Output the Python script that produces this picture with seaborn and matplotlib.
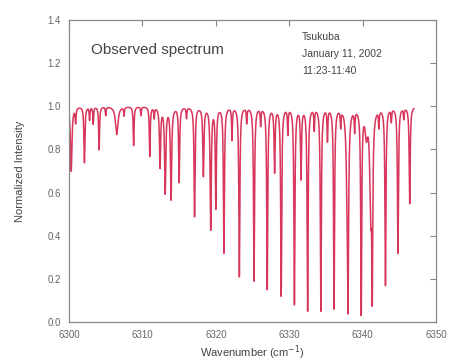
import numpy as np
import pandas as pd
import matplotlib
matplotlib.use("Agg")
import matplotlib.pyplot as plt
import seaborn as sns

# Absorption line list: centre (cm-1), transmission at line centre, half width (cm-1)
line_centers = [6300.3, 6300.9, 6302.1, 6302.8, 6303.3, 6304.1, 6305.0, 6306.5,
                6307.5, 6308.8, 6309.8, 6311.0, 6311.6, 6312.4, 6313.1, 6313.9,
                6315.0, 6316.0, 6317.1, 6318.3, 6319.3, 6320.0, 6321.1, 6322.2,
                6323.2, 6324.2, 6325.2, 6326.1, 6327.0, 6328.0, 6328.9, 6329.8,
                6330.7, 6331.6, 6332.5, 6333.4, 6334.3, 6335.2, 6336.1, 6337.0,
                6337.9, 6338.0, 6338.9, 6339.8, 6340.5, 6341.1, 6341.3, 6342.2,
                6343.1, 6343.9, 6344.8, 6345.6, 6346.4]
line_minima = [0.70, 0.93, 0.74, 0.94, 0.92, 0.80, 0.96, 0.87,
               0.96, 0.82, 0.96, 0.77, 0.95, 0.72, 0.60, 0.57,
               0.65, 0.95, 0.49, 0.68, 0.43, 0.53, 0.32, 0.85,
               0.21, 0.93, 0.19, 0.92, 0.15, 0.70, 0.12, 0.88,
               0.08, 0.67, 0.05, 0.90, 0.05, 0.85, 0.06, 0.92,
               0.63, 0.05, 0.90, 0.03, 0.88, 0.50, 0.09, 0.92,
               0.17, 0.94, 0.32, 0.95, 0.55]
line_hwhm = [0.12, 0.07, 0.08, 0.06, 0.06, 0.07, 0.06, 0.20,
             0.06, 0.07, 0.06, 0.07, 0.06, 0.09, 0.10, 0.10,
             0.08, 0.06, 0.08, 0.09, 0.09, 0.08, 0.08, 0.06,
             0.08, 0.06, 0.08, 0.06, 0.08, 0.08, 0.08, 0.06,
             0.08, 0.08, 0.08, 0.06, 0.08, 0.06, 0.08, 0.06,
             0.15, 0.08, 0.06, 0.08, 0.20, 0.15, 0.08, 0.06,
             0.08, 0.06, 0.08, 0.06, 0.08]
continuum = 1.0
wn_start, wn_end = 6300.0, 6347.0

x_ticks = [6300, 6310, 6320, 6330, 6340, 6350]
y_ticks = [0.0, 0.2, 0.4, 0.6, 0.8, 1.0, 1.2, 1.4]

# Spectrum: continuum times Lorentzian absorption of each line
wn = np.sort(np.concatenate([np.arange(wn_start, wn_end + 1e-9, 0.005),
                             np.array(line_centers)]))
trans = np.full_like(wn, continuum)
for c, m, g in zip(line_centers, line_minima, line_hwhm):
    depth = 1.0 - m / continuum
    trans *= 1.0 - depth * g**2 / ((wn - c) ** 2 + g**2)
df = pd.DataFrame({"Wavenumber": wn, "Intensity": trans})

sns.set_theme(style="white")
plt.rcParams["font.family"] = ["Liberation Sans", "DejaVu Sans"]

fig = plt.figure(figsize=(4.51, 3.63), dpi=100)
ax = fig.add_axes([0.153, 0.113, 0.814, 0.832])
sns.lineplot(data=df, x="Wavenumber", y="Intensity", ax=ax, color="#d8365a",
             linewidth=1.1, estimator=None, sort=True)

ax.set_xlim(6300, 6350)
ax.set_ylim(0.0, 1.4)
ax.set_xticks(x_ticks)
ax.set_yticks(y_ticks)
ax.set_xticklabels([str(t) for t in x_ticks])
ax.set_yticklabels([f"{t:.1f}" for t in y_ticks])
ax.tick_params(direction="in", top=True, right=True, length=4, width=0.8,
               color="#888888", labelsize=7, labelcolor="#666666", pad=6)
for s in ax.spines.values():
    s.set_color("#8a8a8a")
    s.set_linewidth(0.9)

ax.set_xlabel("Wavenumber (cm$^{-1}$)", fontsize=8, color="#444444", labelpad=2)
ax.set_ylabel("Normalized Intensity", fontsize=8, color="#444444", labelpad=16)

ax.text(6303.0, 1.26, "Observed spectrum", fontsize=11, color="#444444",
        va="center", ha="left")
ax.text(6331.7, 1.345, "Tsukuba\nJanuary 11, 2002\n11:23-11:40", fontsize=7.5,
        color="#444444", va="top", ha="left", linespacing=1.9)

fig.savefig("out.png", dpi=100)
